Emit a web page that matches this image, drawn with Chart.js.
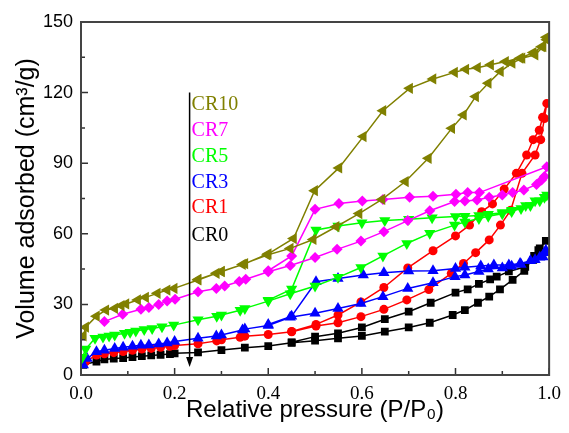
<!DOCTYPE html>
<html>
<head>
<meta charset="utf-8">
<script src="https://cdn.jsdelivr.net/npm/chart.js@4/dist/chart.umd.min.js"></script>
<style>
  html, body { margin: 0; padding: 0; background: #fff; }
  #wrap { width: 569px; height: 433px; }
</style>
</head>
<body>
<div id="wrap"><canvas id="isothermChart"></canvas></div>
<script>
// adsorption branch first (rising P/P0), then desorption (falling)
const cr10P = [0.005, 0.01, 0.033, 0.053, 0.072, 0.086, 0.096, 0.121, 0.138, 0.163, 0.184, 0.199, 0.25, 0.289, 0.30, 0.345, 0.398, 0.447, 0.496, 0.545, 0.594, 0.643, 0.693, 0.742, 0.792, 0.817, 0.843, 0.870, 0.896, 0.921, 0.942, 0.970, 0.987, 0.995,
    0.994, 0.984, 0.966, 0.938, 0.907, 0.875, 0.847, 0.822, 0.798, 0.752, 0.702, 0.645, 0.603, 0.551, 0.499, 0.454, 0.40, 0.35, 0.30, 0.25];
const cr10V = [16.6, 20.3, 25, 27.6, 28.3, 29.5, 30.2, 31.9, 33, 34.7, 36.1, 36.8, 40.4, 43.2, 43.9, 47, 51, 53.8, 57.6, 63, 68.6, 74.6, 82.2, 92.1, 104.8, 110.5, 118.3, 124, 129, 132.5, 134.6, 136, 139.5, 142.5,
    143.5, 139.5, 137, 134.6, 133.2, 131.8, 130.6, 129.9, 128.6, 125.8, 121.8, 112.3, 101.3, 88, 78.3, 58, 51.5, 47.3, 44, 40.6];

const cr7P = [0.05, 0.089, 0.128, 0.145, 0.166, 0.184, 0.201, 0.25, 0.289, 0.307, 0.338, 0.352, 0.40, 0.447, 0.50, 0.547, 0.598, 0.647, 0.698, 0.745, 0.798, 0.82, 0.846, 0.872, 0.90, 0.922, 0.946, 0.973, 0.984, 0.99, 0.995,
    0.851, 0.826, 0.801, 0.752, 0.702, 0.645, 0.601, 0.551, 0.50, 0.45, 0.40];
const cr7V = [22.7, 25.8, 27.9, 28.7, 30, 31.4, 32.2, 35.4, 36.8, 37.8, 39.7, 40.7, 43.9, 46.5, 49.9, 53.4, 56.9, 60.9, 65.6, 69.8, 73.7, 73.9, 74.4, 75.5, 76.5, 77.5, 78.6, 81, 82.9, 84.3, 88.5,
    77.5, 77.5, 76.8, 76, 75.5, 74.6, 73.9, 72.9, 70.4, 50.6, 44.3];

const cr5P = [0.003, 0.01, 0.03, 0.047, 0.06, 0.072, 0.093, 0.105, 0.117, 0.135, 0.152, 0.173, 0.198, 0.25, 0.29, 0.30, 0.34, 0.35, 0.40, 0.447, 0.50, 0.549, 0.598, 0.645, 0.696, 0.745, 0.798, 0.82, 0.85, 0.87, 0.90, 0.92, 0.94, 0.96, 0.98, 0.99,
    0.995, 0.97, 0.95, 0.92, 0.90, 0.87, 0.85, 0.82, 0.80, 0.75, 0.70, 0.649, 0.60, 0.549, 0.502, 0.45, 0.40];
const cr5V = [7.5, 11, 15.6, 16.2, 16.6, 17, 17.7, 18.2, 18.7, 19.3, 19.8, 20.5, 21.2, 23.5, 25, 25.5, 27.5, 28.3, 31.4, 34.5, 37.8, 41.5, 45.7, 50.6, 55.9, 60.2, 63.7, 65, 66.5, 67.5, 68.5, 69.5, 70.8, 72, 74, 75.5,
    76.5, 74, 72, 70, 69, 68.3, 67.8, 67.5, 67.3, 66.8, 66.2, 65.6, 64.7, 63.3, 61.6, 36.5, 31.8];

const cr3P = [0.005, 0.013, 0.033, 0.05, 0.072, 0.09, 0.11, 0.128, 0.145, 0.166, 0.184, 0.20, 0.25, 0.289, 0.30, 0.345, 0.35, 0.40, 0.447, 0.50, 0.549, 0.598, 0.645, 0.698, 0.752, 0.799, 0.82, 0.85, 0.87, 0.90, 0.92, 0.94, 0.96, 0.98, 0.99,
    0.993, 0.987, 0.97, 0.938, 0.914, 0.882, 0.854, 0.82, 0.80, 0.752, 0.70, 0.647, 0.603, 0.549, 0.502, 0.45, 0.40];
const cr3V = [4.3, 7, 9.9, 10.5, 11.3, 11.8, 12.2, 12.6, 12.7, 13.2, 13.6, 14.2, 15.6, 16.6, 17, 19.1, 19.5, 21, 24.5, 26.2, 28.3, 30.4, 33.3, 36.8, 39.2, 41.8, 42.5, 44, 45, 45.5, 46.2, 47, 48.5, 50, 52,
    53, 50.1, 49, 47.4, 46.7, 46.7, 46.3, 45.8, 45.3, 44.3, 44.2, 43.5, 42.5, 41, 39.6, 25, 21.5];

const cr1P = [0.01, 0.033, 0.05, 0.07, 0.09, 0.11, 0.13, 0.15, 0.17, 0.19, 0.20, 0.25, 0.29, 0.30, 0.34, 0.35, 0.40, 0.45, 0.502, 0.549, 0.598, 0.647, 0.696, 0.743, 0.791, 0.817, 0.843, 0.872, 0.896, 0.918, 0.942, 0.97, 0.982, 0.99, 0.995,
    0.986, 0.979, 0.966, 0.952, 0.93, 0.904, 0.879, 0.856, 0.83, 0.80, 0.752, 0.698, 0.647, 0.598, 0.549, 0.502, 0.45];
const cr1V = [5.7, 8.5, 9, 9.5, 10, 10.5, 11, 11.3, 11.8, 12.2, 12.5, 13.3, 14.5, 15, 16, 16.5, 17.2, 18.4, 20.8, 22.2, 24.8, 27.9, 31.9, 36.3, 43.2, 47.4, 52, 57.4, 63.7, 70, 85.7, 93.5, 100, 109, 115.4,
    109.5, 104, 100, 93.5, 85.7, 79, 72.7, 69.4, 63.7, 59.1, 52.8, 45.5, 37.2, 31, 25.5, 21.5, 18.5];

const cr0P = [0.005, 0.033, 0.05, 0.07, 0.09, 0.11, 0.13, 0.15, 0.17, 0.19, 0.20, 0.25, 0.30, 0.35, 0.40, 0.45, 0.50, 0.549, 0.60, 0.649, 0.70, 0.745, 0.794, 0.82, 0.848, 0.872, 0.895, 0.922, 0.947, 0.968, 0.98, 0.993,
    0.977, 0.966, 0.949, 0.914, 0.888, 0.874, 0.85, 0.826, 0.80, 0.747, 0.70, 0.649, 0.60, 0.549, 0.50, 0.45];
const cr0V = [4.3, 5.7, 6.6, 7, 7.2, 7.6, 8, 8.3, 8.6, 8.9, 9.2, 9.6, 10.6, 11.6, 12.3, 13.7, 14.6, 15.6, 16.6, 18.4, 20.2, 22.2, 25.5, 27.6, 30.7, 33.3, 36.4, 40.4, 44.3, 50.6, 53.8, 57,
    53.1, 48.9, 46, 44, 41.8, 40.6, 38.7, 36.4, 35, 30.7, 26.9, 23.7, 20.2, 17.7, 16.3, 13.9];

const sampleNames = ["CR10", "CR7", "CR5", "CR3", "CR1", "CR0"];
const labelValues = [115, 104, 92.7, 81.6, 71, 59];   // where the names sit on the y scale
const arrowP = 0.232;
const arrowFrom = 120;
const arrowTo = 3.4;

const xTicks = [0, 0.2, 0.4, 0.6, 0.8, 1.0];
const yTicks = [0, 30, 60, 90, 120, 150];

function toPoints(ps, vs) {
    return ps.map((p, i) => ({ x: p, y: vs[i] }));
}

function makeSeries(label, ps, vs, color, style, rotation, radius) {
    return {
        label: label,
        data: toPoints(ps, vs),
        borderColor: color,
        backgroundColor: color,
        borderWidth: 1.5,
        pointStyle: style,
        pointRotation: rotation,
        pointRadius: radius,
        pointBorderWidth: 0,
        pointBackgroundColor: color,
        tension: 0
    };
}

const colors = ["#808000", "#ff00ff", "#00ff00", "#0000ff", "#ff0000", "#000000"];

const decorPlugin = {
    id: "decor",
    afterDraw(chart) {
        const ctx = chart.ctx;
        const xs = chart.scales.x;
        const ys = chart.scales.y;
        const a = chart.chartArea;
        ctx.save();

        // inward ticks, major + minor
        ctx.strokeStyle = "#333";
        ctx.lineWidth = 1.5;
        ctx.beginPath();
        for (let i = 0; i <= 10; i++) {
            const px = xs.getPixelForValue(i / 10);
            const len = i % 2 === 0 ? 7 : 4;
            ctx.moveTo(px, a.bottom);
            ctx.lineTo(px, a.bottom - len);
        }
        for (let v = 0; v <= 150; v += 15) {
            const py = ys.getPixelForValue(v);
            const len = v % 30 === 0 ? 7 : 4;
            ctx.moveTo(a.left, py);
            ctx.lineTo(a.left + len, py);
        }
        ctx.stroke();

        // frame
        ctx.strokeStyle = "#444";
        ctx.lineWidth = 2;
        ctx.strokeRect(a.left, a.top, a.right - a.left, a.bottom - a.top);

        // arrow
        const ax = xs.getPixelForValue(arrowP);
        const y1 = ys.getPixelForValue(arrowFrom);
        const y2 = ys.getPixelForValue(arrowTo);
        ctx.strokeStyle = "#000";
        ctx.lineWidth = 1.5;
        ctx.beginPath();
        ctx.moveTo(ax, y1);
        ctx.lineTo(ax, y2 - 8);
        ctx.stroke();
        ctx.fillStyle = "#000";
        ctx.beginPath();
        ctx.moveTo(ax, y2);
        ctx.lineTo(ax - 3.5, y2 - 10);
        ctx.lineTo(ax + 3.5, y2 - 10);
        ctx.closePath();
        ctx.fill();

        // sample names
        ctx.font = "20px 'Liberation Serif'";
        ctx.textBaseline = "middle";
        ctx.textAlign = "left";
        sampleNames.forEach((name, i) => {
            ctx.fillStyle = colors[i];
            ctx.fillText(name, ax + 2, ys.getPixelForValue(labelValues[i]));
        });
        ctx.restore();
    }
};

new Chart(document.getElementById("isothermChart"), {
    type: "line",
    data: {
        datasets: [
            makeSeries("CR10", cr10P, cr10V, colors[0], "triangle", 270, 6.5),
            makeSeries("CR7", cr7P, cr7V, colors[1], "rectRot", 0, 5.5),
            makeSeries("CR5", cr5P, cr5V, colors[2], "triangle", 180, 6.5),
            makeSeries("CR3", cr3P, cr3V, colors[3], "triangle", 0, 6.5),
            makeSeries("CR1", cr1P, cr1V, colors[4], "circle", 0, 4.5),
            makeSeries("CR0", cr0P, cr0V, colors[5], "rect", 0, 5.5)
        ]
    },
    options: {
        responsive: true,
        maintainAspectRatio: false,
        animation: false,
        layout: {
            padding: { left: 0, top: 22, right: 13, bottom: 0 }
        },
        plugins: {
            legend: { display: false },
            tooltip: { enabled: false }
        },
        scales: {
            x: {
                type: "linear",
                min: 0,
                max: 1,
                afterBuildTicks: (scale) => { scale.ticks = xTicks.map((v) => ({ value: v })); },
                afterFit: (scale) => { scale.height = 58; },
                grid: { display: false, drawTicks: false },
                border: { display: false },
                ticks: {
                    padding: 8,
                    color: "#000",
                    font: { family: "'Liberation Serif'", size: 19 },
                    callback: (v) => Number(v).toFixed(1)
                },
                title: {
                    display: true,
                    text: "Relative pressure (P/P\u2080)",
                    color: "#000",
                    font: { family: "'Liberation Sans'", size: 24 },
                    padding: { top: 0, bottom: 8 }
                }
            },
            y: {
                min: 0,
                max: 150,
                afterBuildTicks: (scale) => { scale.ticks = yTicks.map((v) => ({ value: v })); },
                afterFit: (scale) => { scale.width = 81; },
                grid: { display: false, drawTicks: false },
                border: { display: false },
                ticks: {
                    padding: 8,
                    color: "#000",
                    font: { family: "'Liberation Sans'", size: 18 }
                },
                title: {
                    display: true,
                    text: "Volume adsorbed (cm\u00b3/g)",
                    color: "#000",
                    font: { family: "'Liberation Sans'", size: 25 },
                    padding: { top: 12, bottom: 0 }
                }
            }
        }
    },
    plugins: [decorPlugin]
});
</script>
</body>
</html>
